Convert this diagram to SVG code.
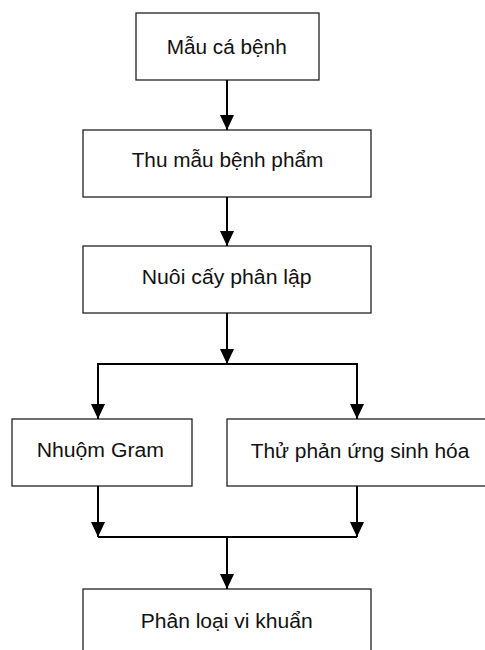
<svg xmlns="http://www.w3.org/2000/svg" width="485" height="650" viewBox="0 0 485 650">
<style>
.box{fill:#fff;stroke:#222;stroke-width:1.3}
.lbl{font-family:"Liberation Sans",Arial,sans-serif;font-size:20px;fill:#111;text-anchor:middle}
.con{fill:none;stroke:#000;stroke-width:2}
</style>
<defs>
<marker id="ah" markerUnits="userSpaceOnUse" markerWidth="15" markerHeight="14" viewBox="0 0 15 14" refX="15" refY="7" orient="auto">
<path d="M0,0 L15,7 L0,14 Z" fill="#000"/>
</marker>
</defs>
<rect width="485" height="650" fill="#fff"/>
<g id="n1"><rect class="box" x="136" y="13" width="183" height="67"/><text class="lbl" x="226.7" y="54" textLength="120" lengthAdjust="spacingAndGlyphs">Mẫu cá bệnh</text></g>
<g id="n2"><rect class="box" x="83" y="130" width="288" height="67"/><text class="lbl" x="227.5" y="167.3" textLength="191.6" lengthAdjust="spacingAndGlyphs">Thu mẫu bệnh phẩm</text></g>
<g id="n3"><rect class="box" x="83" y="246" width="288" height="67"/><text class="lbl" x="226.7" y="284.3" textLength="170" lengthAdjust="spacingAndGlyphs">Nuôi cấy phân lập</text></g>
<g id="n4"><rect class="box" x="12" y="419" width="180" height="67"/><text class="lbl" x="100.3" y="457.3" textLength="127.3" lengthAdjust="spacingAndGlyphs">Nhuộm Gram</text></g>
<g id="n5"><rect class="box" x="227" y="419" width="270" height="67"/><text class="lbl" x="360" y="457.7" textLength="218.7" lengthAdjust="spacingAndGlyphs">Thử phản ứng sinh hóa</text></g>
<g id="n6"><rect class="box" x="83" y="589" width="288" height="80"/><text class="lbl" x="226.7" y="627.7" textLength="172" lengthAdjust="spacingAndGlyphs">Phân loại vi khuẩn</text></g>
<g id="connectors">
<path class="con" d="M227,80 V130" marker-end="url(#ah)"/>
<path class="con" d="M227,197 V246" marker-end="url(#ah)"/>
<path class="con" d="M227,313 V364" marker-end="url(#ah)"/>
<path class="con" d="M98,364 H357"/>
<path class="con" d="M98,363 V419" marker-end="url(#ah)"/>
<path class="con" d="M357,363 V419" marker-end="url(#ah)"/>
<path class="con" d="M98,486 V537" marker-end="url(#ah)"/>
<path class="con" d="M357,486 V537" marker-end="url(#ah)"/>
<path class="con" d="M98,537 H357"/>
<path class="con" d="M227,537 V589" marker-end="url(#ah)"/>
</g>
</svg>
